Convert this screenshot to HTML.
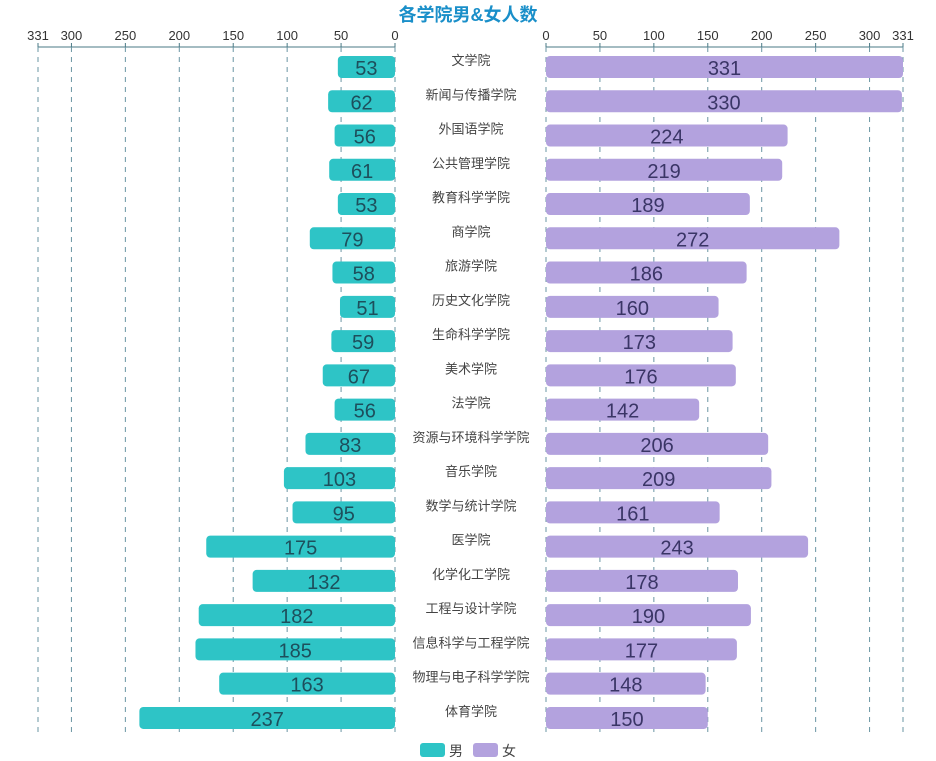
<!DOCTYPE html>
<html><head><meta charset="utf-8"><style>
body{margin:0;background:#fff;}
svg{display:block;font-family:"Liberation Sans","Noto Sans CJK SC",sans-serif;}
</style></head><body>
<svg id="c" width="936" height="761"></svg>
<script>
const categories=["文学院","新闻与传播学院","外国语学院","公共管理学院","教育科学学院","商学院","旅游学院","历史文化学院","生命科学学院","美术学院","法学院","资源与环境科学学院","音乐学院","数学与统计学院","医学院","化学化工学院","工程与设计学院","信息科学与工程学院","物理与电子科学学院","体育学院"];
const male=[53,62,56,61,53,79,58,51,59,67,56,83,103,95,175,132,182,185,163,237];
const female=[331,330,224,219,189,272,186,160,173,176,142,206,209,161,243,178,190,177,148,150];
const ticks=[0,50,100,150,200,250,300,331];
const NS="http://www.w3.org/2000/svg";
const svg=document.getElementById('c');
const maxV=331;
const lx=v=>395-v*(357/maxV);
const rx=v=>546+v*(357/maxV);
const ry=i=>67+i*34.26;
function el(t,a,p){const e=document.createElementNS(NS,t);for(const k in a)e.setAttribute(k,a[k]);(p||svg).appendChild(e);return e;}
const title=el('text',{x:468,y:21,'text-anchor':'middle','font-size':18,'font-weight':'bold',fill:'#1a8fc9'});
title.textContent='各学院男&女人数';


// axes
[[lx,38,395,'left'],[rx,546,903,'right']].forEach(([f,a,b,side])=>{
  const g=el('g',{});
  
  
  el('line',{x1:a,x2:b,y1:47,y2:47,stroke:'#4a7a86','stroke-width':1},g);
  ticks.forEach(t=>{
    const x=f(t);
    el('line',{x1:x,x2:x,y1:47,y2:735,stroke:'#6a95a3','stroke-width':1,'stroke-dasharray':'5,5'},g);
    el('line',{x1:x,x2:x,y1:43,y2:47,stroke:'#4a7a86'},g);
    const tx=el('text',{x:x,y:40,'text-anchor':'middle','font-size':13,fill:'#333'},g);
    tx.textContent=t;
  });
});
categories.forEach((c,i)=>{
  const y=ry(i);
  const bm=el('rect',{x:lx(male[i]),y:y-11,width:395-lx(male[i]),height:22,rx:4,fill:'#2ec4c6'});
  
  
  const tm=el('text',{x:(lx(male[i])+395)/2,y:y+8,'text-anchor':'middle','font-size':20,fill:'#1d4f5c'});
  tm.textContent=male[i];
  const bf=el('rect',{x:546,y:y-11,width:rx(female[i])-546,height:22,rx:4,fill:'#b3a2de'});
  
  
  const tf=el('text',{x:(rx(female[i])+546)/2,y:y+8,'text-anchor':'middle','font-size':20,fill:'#3a3566'});
  tf.textContent=female[i];
  const lb=el('text',{x:471,y:y-2,'text-anchor':'middle','font-size':13,fill:'#444'});
  lb.textContent=c;
  
  
});
const lg=el('g',{});


el('rect',{x:420,y:743,width:25,height:14,rx:3,fill:'#2ec4c6'},lg);
el('text',{x:449,y:756,'font-size':14,fill:'#444'},lg).textContent='男';
el('rect',{x:473,y:743,width:25,height:14,rx:3,fill:'#b3a2de'},lg);
el('text',{x:502,y:756,'font-size':14,fill:'#444'},lg).textContent='女';
</script>
</body></html>
